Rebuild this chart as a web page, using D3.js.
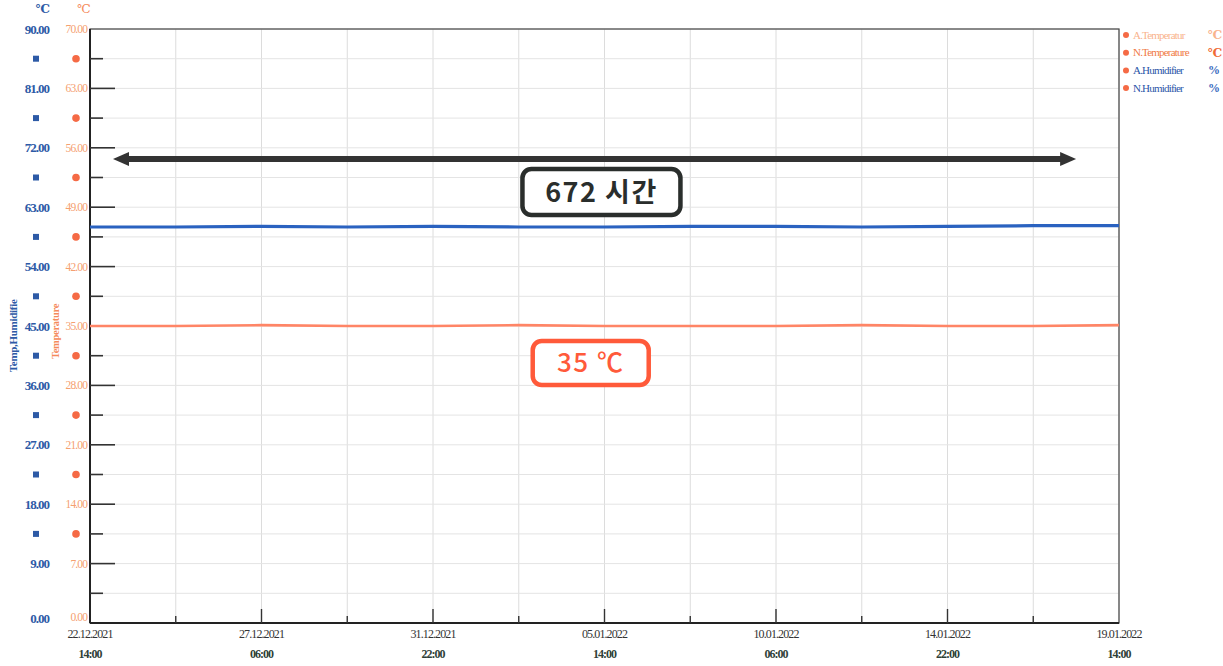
<!DOCTYPE html>
<html>
<head>
<meta charset="utf-8">
<script src="https://cdn.jsdelivr.net/npm/d3@7"></script>
<style>
  body { margin: 0; background: #fff; }
  svg { display: block; }
</style>
</head>
<body>
<div id="chart"></div>
<script>
// Tick labels on the time axis (every 112 h)
const tickDates = ["22.12.2021", "27.12.2021", "31.12.2021", "05.01.2022", "10.01.2022", "14.01.2022", "19.01.2022"];
const tickTimes = ["14:00", "06:00", "22:00", "14:00", "06:00", "22:00", "14:00"];

// Samples every 56 h from 22.12.2021 14:00
const sampleHours = [0, 56, 112, 168, 224, 280, 336, 392, 448, 504, 560, 616, 672];
const humidity    = [60.0, 60.0, 60.1, 60.0, 60.1, 60.0, 60.0, 60.1, 60.1, 60.0, 60.1, 60.2, 60.2];
const temperature = [35.0, 35.0, 35.1, 35.0, 35.0, 35.1, 35.0, 35.0, 35.0, 35.1, 35.0, 35.0, 35.1];

// Axis tick values
const humTicks = [0, 9, 18, 27, 36, 45, 54, 63, 72, 81, 90];
const tempTicks = [0, 7, 14, 21, 28, 35, 42, 49, 56, 63, 70];

// Legend
const legendItems = [
  { name: "A.Temperatur", unit: "℃", color: "#f9b38c", unitColor: "#f9b38c" },
  { name: "N.Temperature", unit: "℃", color: "#f07a45", unitColor: "#f06a35" },
  { name: "A.Humidifier", unit: "%", color: "#2a56a8", unitColor: "#3a6cc0" },
  { name: "N.Humidifier", unit: "%", color: "#2a56a8", unitColor: "#3a6cc0" }
];

// Annotations (in data units: hours / humidity axis)
const spanArrow = { from: 15, to: 644, value: 70.3 };
const durationNote = { text: "672 시간", hour: 334, value: 65.3 };
const tempNote = { text: "35  ℃", hour: 327, value: 39.4 };

const width = 1223, height = 666;
const margin = { top: 29, right: 104, bottom: 43, left: 90 };

const svg = d3.select("#chart").append("svg")
  .attr("width", width)
  .attr("height", height);

const start = new Date(2021, 11, 22, 14, 0);
const toDate = h => new Date(start.getTime() + h * 3600 * 1000);

const x = d3.scaleTime()
  .domain([start, toDate(672)])
  .range([margin.left, width - margin.right]);

const yHum = d3.scaleLinear()
  .domain([0, 90])
  .range([height - margin.bottom, margin.top]);

const yTemp = d3.scaleLinear()
  .domain([0, 70])
  .range([height - margin.bottom, margin.top]);

const x0 = margin.left, x1 = width - margin.right;
const yBottom = height - margin.bottom, yTop = margin.top;

// Grid lines (major + minor)
const gridHours = d3.range(0, 673, 56);
svg.append("g").selectAll("line")
  .data(gridHours)
  .join("line")
  .attr("x1", d => x(toDate(d))).attr("x2", d => x(toDate(d)))
  .attr("y1", yTop).attr("y2", yBottom)
  .attr("stroke", "#dcdcdc").attr("stroke-width", 1);

const gridHum = d3.range(0, 90.1, 4.5);
svg.append("g").selectAll("line")
  .data(gridHum)
  .join("line")
  .attr("x1", x0).attr("x2", x1)
  .attr("y1", d => yHum(d)).attr("y2", d => yHum(d))
  .attr("stroke", "#e4e4e4").attr("stroke-width", 1);

// Frame
svg.append("rect")
  .attr("x", x0).attr("y", yTop)
  .attr("width", x1 - x0).attr("height", yBottom - yTop)
  .attr("fill", "none").attr("stroke", "#444").attr("stroke-width", 1.2);
svg.append("line").attr("x1", x0).attr("x2", x0).attr("y1", yTop).attr("y2", yBottom)
  .attr("stroke", "#222").attr("stroke-width", 2);
svg.append("line").attr("x1", x0).attr("x2", x1).attr("y1", yBottom).attr("y2", yBottom)
  .attr("stroke", "#222").attr("stroke-width", 2);

// Inside ticks on left axis
svg.append("g").selectAll("line")
  .data(gridHum.filter(d => d > 0 && d < 90))
  .join("line")
  .attr("x1", x0)
  .attr("x2", d => x0 + (d % 9 === 0 ? 25 : 13))
  .attr("y1", d => yHum(d)).attr("y2", d => yHum(d))
  .attr("stroke", "#333").attr("stroke-width", 1.6);

// Inside ticks on bottom axis
svg.append("g").selectAll("line")
  .data(gridHours.filter(d => d > 0 && d < 672))
  .join("line")
  .attr("x1", d => x(toDate(d))).attr("x2", d => x(toDate(d)))
  .attr("y1", yBottom)
  .attr("y2", d => yBottom - (d % 112 === 0 ? 14 : 7))
  .attr("stroke", "#333").attr("stroke-width", 1.4);

// Left axis labels: humidity (blue) and temperature (orange)
// the zero labels sit a little above the bottom axis, as in the original
const serif = "'Liberation Serif', 'DejaVu Serif', serif";
svg.append("g").selectAll("text")
  .data(humTicks)
  .join("text")
  .attr("x", 49).attr("y", d => yHum(d) + (d === 0 ? 0 : 4.5))
  .attr("text-anchor", "end")
  .attr("font-family", serif).attr("font-weight", "bold")
  .attr("font-size", 13).attr("letter-spacing", -1)
  .attr("fill", "#2d5aa6")
  .text(d => d.toFixed(2));

svg.append("g").selectAll("text")
  .data(tempTicks)
  .join("text")
  .attr("x", 87).attr("y", d => yTemp(d) + (d === 0 ? -2 : 4))
  .attr("text-anchor", "end")
  .attr("font-family", serif)
  .attr("font-size", 11.5).attr("letter-spacing", -0.9)
  .attr("fill", "#f5a070")
  .text(d => d.toFixed(2));

// Markers between labels
const midHum = d3.range(4.5, 90, 9);
svg.append("g").selectAll("rect")
  .data(midHum.filter(d => d > 10))
  .join("rect")
  .attr("x", 33).attr("y", d => yHum(d) - 3)
  .attr("width", 6).attr("height", 6)
  .attr("fill", "#2d5aa6");

svg.append("g").selectAll("circle")
  .data(midHum.filter(d => d > 10))
  .join("circle")
  .attr("cx", 76).attr("cy", d => yHum(d))
  .attr("r", 3.8)
  .attr("fill", "#f56a45");

// Unit labels
svg.append("text").attr("x", 43).attr("y", 13).attr("text-anchor", "middle")
  .attr("font-family", serif).attr("font-weight", "bold").attr("font-size", 12)
  .attr("fill", "#2d5aa6").text("℃");
svg.append("text").attr("x", 84).attr("y", 13).attr("text-anchor", "middle")
  .attr("font-family", serif).attr("font-size", 12)
  .attr("fill", "#f58a5a").text("℃");

// Rotated axis titles
svg.append("text")
  .attr("transform", `translate(17, ${yHum(38)}) rotate(-90)`)
  .attr("font-family", serif).attr("font-weight", "bold").attr("font-size", 11)
  .attr("letter-spacing", -0.3)
  .attr("fill", "#2d5aa6").text("Temp,Humidifie");
svg.append("text")
  .attr("transform", `translate(59, ${yHum(40)}) rotate(-90)`)
  .attr("font-family", serif).attr("font-weight", "bold").attr("font-size", 10.5)
  .attr("letter-spacing", -0.3)
  .attr("fill", "#f58a5a").text("Temperature");

// Bottom axis labels
const tickHours = d3.range(0, 673, 112);
const xLabels = svg.append("g");
tickHours.forEach((h, i) => {
  xLabels.append("text")
    .attr("x", x(toDate(h))).attr("y", yBottom + 15)
    .attr("text-anchor", "middle")
    .attr("font-family", serif).attr("font-size", 12).attr("letter-spacing", -0.9)
    .attr("fill", "#333").text(tickDates[i]);
  xLabels.append("text")
    .attr("x", x(toDate(h))).attr("y", yBottom + 35)
    .attr("text-anchor", "middle")
    .attr("font-family", serif).attr("font-weight", "bold").attr("font-size", 12)
    .attr("letter-spacing", -1)
    .attr("fill", "#2f3f38").text(tickTimes[i]);
});

// Series lines
const humLine = d3.line()
  .x((d, i) => x(toDate(sampleHours[i])))
  .y(d => yHum(d));
const tempLine = d3.line()
  .x((d, i) => x(toDate(sampleHours[i])))
  .y(d => yTemp(d));

svg.append("path").datum(temperature)
  .attr("d", tempLine)
  .attr("fill", "none").attr("stroke", "#ff8566").attr("stroke-width", 2.6);

svg.append("path").datum(humidity)
  .attr("d", humLine)
  .attr("fill", "none").attr("stroke", "#2a62c0").attr("stroke-width", 3.2);

// Double-headed arrow spanning the test duration
const ax1 = x(toDate(spanArrow.from)), ax2 = x(toDate(spanArrow.to));
const ay = yHum(spanArrow.value);
const headLen = 16, headHalf = 7;
svg.append("line")
  .attr("x1", ax1 + headLen - 1).attr("x2", ax2 - headLen + 1)
  .attr("y1", ay).attr("y2", ay)
  .attr("stroke", "#333").attr("stroke-width", 6);
svg.append("path")
  .attr("d", `M${ax1},${ay} L${ax1 + headLen},${ay - headHalf} L${ax1 + headLen},${ay + headHalf} Z`)
  .attr("fill", "#333");
svg.append("path")
  .attr("d", `M${ax2},${ay} L${ax2 - headLen},${ay - headHalf} L${ax2 - headLen},${ay + headHalf} Z`)
  .attr("fill", "#333");

// Annotation boxes
function noteBox(note, w, h, color, fontSize, weight) {
  const cx = x(toDate(note.hour)), cy = yHum(note.value);
  svg.append("rect")
    .attr("x", cx - w / 2).attr("y", cy - h / 2)
    .attr("width", w).attr("height", h)
    .attr("rx", 9).attr("ry", 9)
    .attr("fill", "#fff").attr("stroke", color).attr("stroke-width", 4.5);
  svg.append("text")
    .attr("x", cx).attr("y", cy + fontSize * 0.36)
    .attr("text-anchor", "middle")
    .attr("font-family", "'Noto Sans CJK KR', 'Noto Sans', sans-serif")
    .attr("font-weight", weight).attr("font-size", fontSize)
    .attr("letter-spacing", 1.5)
    .attr("fill", color)
    .text(note.text);
}
noteBox(durationNote, 158, 46, "#2a2e2c", 27, 600);
noteBox(tempNote, 116, 44, "#ff5a3a", 26, 500);

// Legend
const legend = svg.append("g").attr("transform", `translate(${x1 + 5}, 35)`);
legendItems.forEach((item, i) => {
  const g = legend.append("g").attr("transform", `translate(0, ${i * 17.7})`);
  g.append("circle").attr("cx", 2).attr("cy", 0).attr("r", 3).attr("fill", "#f56a45");
  g.append("text").attr("x", 9).attr("y", 3.5)
    .attr("font-family", serif).attr("font-size", 11).attr("letter-spacing", -0.8)
    .attr("fill", item.color).text(item.name);
  g.append("text").attr("x", 84).attr("y", 4)
    .attr("font-family", serif).attr("font-weight", "bold").attr("font-size", 12)
    .attr("fill", item.unitColor).text(item.unit);
});
</script>
</body>
</html>
